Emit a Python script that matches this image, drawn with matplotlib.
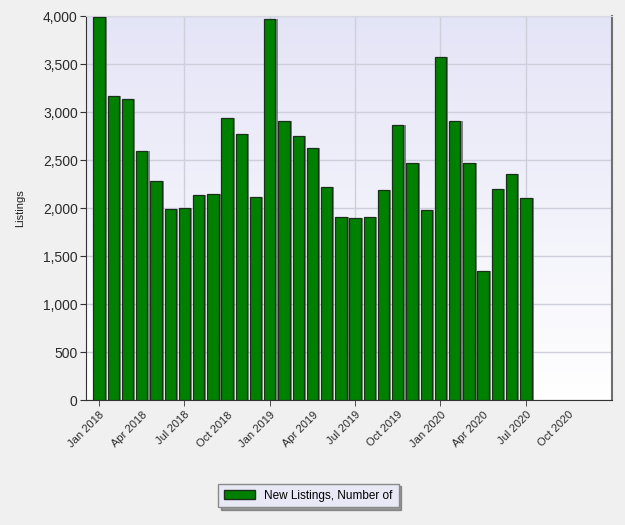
import matplotlib
matplotlib.use("Agg")
import matplotlib.pyplot as plt
import numpy as np
from matplotlib.patches import Rectangle
from matplotlib.colors import LinearSegmentedColormap

months = ["Jan 2018", "Feb 2018", "Mar 2018", "Apr 2018", "May 2018", "Jun 2018",
          "Jul 2018", "Aug 2018", "Sep 2018", "Oct 2018", "Nov 2018", "Dec 2018",
          "Jan 2019", "Feb 2019", "Mar 2019", "Apr 2019", "May 2019", "Jun 2019",
          "Jul 2019", "Aug 2019", "Sep 2019", "Oct 2019", "Nov 2019", "Dec 2019",
          "Jan 2020", "Feb 2020", "Mar 2020", "Apr 2020", "May 2020", "Jun 2020",
          "Jul 2020"]
new_listings = [3985, 3163, 3132, 2594, 2281, 1990, 2003, 2135, 2149, 2941, 2774, 2111,
                3969, 2906, 2750, 2628, 2222, 1910, 1899, 1910, 2191, 2861, 2469, 1976,
                3576, 2906, 2469, 1340, 2201, 2358, 2101]
tick_labels = ["Jan 2018", "Apr 2018", "Jul 2018", "Oct 2018", "Jan 2019", "Apr 2019",
               "Jul 2019", "Oct 2019", "Jan 2020", "Apr 2020", "Jul 2020", "Oct 2020"]
series_name = "New Listings, Number of"

plt.rcParams['font.family'] = ['Liberation Sans', 'DejaVu Sans']

fig = plt.figure(figsize=(6.25, 5.25), dpi=100)
fig.patch.set_facecolor('#f0f0f0')
ax = fig.add_axes([0.1376, 0.238, 0.979 - 0.1376, 0.9695 - 0.238])

# gradient background
grad = np.linspace(0, 1, 256).reshape(-1, 1)
cmap = LinearSegmentedColormap.from_list("bg", ["#e4e4f7", "#ffffff"])
ax.imshow(grad, aspect='auto', cmap=cmap, extent=[0, 1, 0, 1],
          transform=ax.transAxes, zorder=0)

x = np.arange(len(new_listings))
# shadow
ax.bar(x + 0.15, new_listings, width=0.8, color='#606060', alpha=0.75,
       zorder=2, linewidth=0)
ax.bar(x, new_listings, width=0.8, color='#008000', edgecolor='#1a301a',
       linewidth=0.9, zorder=3, label=series_name)

ax.set_xlim(-0.92, 36.05)
ax.set_ylim(0, 4000)
ax.set_yticks(np.arange(0, 4001, 500))
ax.set_yticklabels([f"{v:,}" for v in range(0, 4001, 500)], fontsize=10, color='#2a2a2a')
ax.xaxis.remove_overlapping_locs = False
ax.set_xticks(np.arange(0, 36, 3))
ax.set_xticklabels(tick_labels, rotation=45, ha='right', rotation_mode='anchor',
                   fontsize=8, color='#2a2a2a')
ax.set_xticks(np.arange(0, 36, 6), minor=True)
ax.tick_params(axis='x', which='major', length=0, pad=7)
ax.tick_params(axis='x', which='minor', length=4, color='#333333')
ax.tick_params(axis='y', length=4, color='#333333', pad=2)

ax.set_axisbelow(True)
ax.grid(True, axis='y', color='#cfcfdc', linewidth=1)
ax.grid(True, axis='x', which='minor', color='#cfcfdc', linewidth=1)
ax.grid(False, axis='x', which='major')

ax.spines['top'].set_color('#d8d8e0')
ax.spines['right'].set_color('#707070')
ax.spines['right'].set_linewidth(1.5)
ax.spines['left'].set_color('#333333')
ax.spines['bottom'].set_color('#333333')

ax.set_ylabel("Listings", fontsize=8, color='#222222', labelpad=13)

handle = Rectangle((0, 0), 1, 1, facecolor='#008000', edgecolor='#1a301a')
leg = fig.legend([handle], [series_name], loc='center',
                 bbox_to_anchor=(308.5 / 625, 1 - 495.5 / 525), fontsize=8.5,
                 frameon=True, fancybox=False, handlelength=2.6, handleheight=0.9,
                 borderpad=0.5, shadow=True)
leg.get_frame().set_facecolor('#e8e8f6')
leg.get_frame().set_edgecolor('#8a8a8a')

fig.savefig("out.png", dpi=100, facecolor=fig.get_facecolor())
